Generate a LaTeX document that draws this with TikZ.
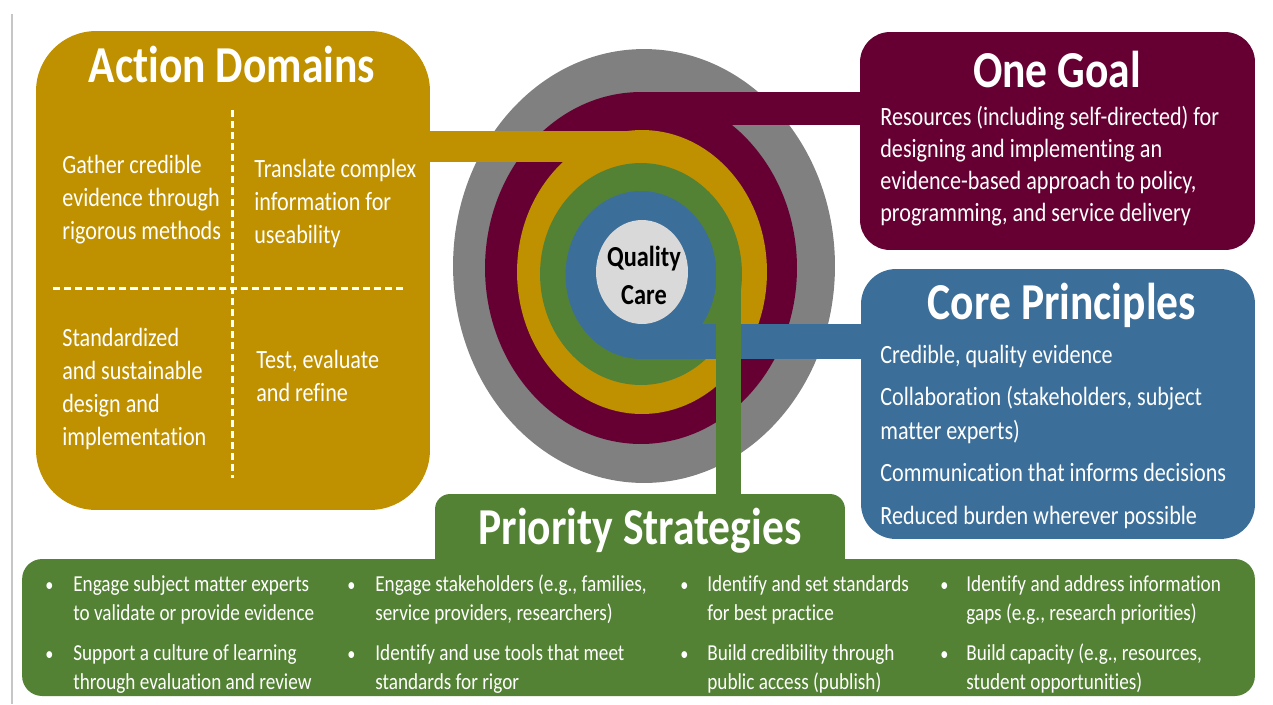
\documentclass[tikz,border=0pt]{standalone}
\usepackage{fontspec}
\setmainfont{Carlito}[FakeStretch=0.84, Ligatures=CommonOff]
\usepackage{tikz}
\usetikzlibrary{shapes.geometric}

\definecolor{adgold}{HTML}{BF9000}
\definecolor{goalred}{HTML}{660033}
\definecolor{coreblue}{HTML}{3B6E98}
\definecolor{stratgreen}{HTML}{548235}
\definecolor{ringgray}{HTML}{808080}
\definecolor{hubgray}{HTML}{D9D9D9}

\tikzset{
  panel/.style={inner sep=0pt, rounded corners=#1},
  ring/.style={ellipse, inner sep=0pt},
  band/.style={line width=#1},
  title/.style={text=white, inner sep=0pt, anchor=base, font=\fontsize{29.5}{34}\selectfont\bfseries},
  body/.style={text=white, inner sep=0pt, anchor=base west, align=left, font=\fontsize{15}{18.7}\selectfont},
  item/.style={text=white, inner sep=0pt, anchor=base west, align=left, font=\fontsize{13}{16.4}\selectfont},
  divider/.style={white, line width=0.06cm, dash pattern=on 4pt off 2.3pt}
}

\begin{document}
\begin{tikzpicture}[x=0.02cm, y=-0.02cm]
      \useasboundingbox (0,0) rectangle (1273,704);
      \draw[gray!45, line width=0.06cm] (12,14) -- (12,704);

      % panels
      \node[panel=1.2cm, fill=adgold, minimum width=7.88cm, minimum height=9.58cm] (domains) at (233,270.5) {};
      \node[panel=0.6cm, fill=goalred, minimum width=7.9cm, minimum height=4.36cm] (goal) at (1057.5,141) {};
      \node[panel=0.7cm, fill=coreblue, minimum width=7.88cm, minimum height=5.4cm] (core) at (1058,404) {};
      \node[panel=0.3cm, fill=stratgreen, minimum width=8.2cm, minimum height=1.72cm] (strattab) at (640,537) {};
      \node[panel=0.4cm, fill=stratgreen, minimum width=24.66cm, minimum height=2.74cm] (strategies) at (638.5,627.5) {};

      % spiral
      \node[ring, fill=ringgray, minimum width=7.64cm, minimum height=8.68cm] (outer) at (644,266) {};
      \node[ring, fill=goalred, minimum width=6.24cm, minimum height=7.04cm] (maroonring) at (641,268) {};
      \coordinate (maroontop) at (641,108.5);
      \draw[band=0.66cm, goalred] (maroontop) -- (maroontop -| goal.west) -- ++(10,0);
      \node[ring, fill=adgold, minimum width=5cm, minimum height=5.68cm] (goldring) at (642,272) {};
      \coordinate (goldtop) at (642,146.5);
      \draw[band=0.62cm, adgold] (goldtop) -- (goldtop -| domains.east) -- ++(-10,0);
      \node[ring, fill=stratgreen, minimum width=4.04cm, minimum height=4.44cm] (greenring) at (641,274) {};
      \node[ring, fill=coreblue, minimum width=3.02cm, minimum height=3.36cm] (bluering) at (641,275) {};
      \coordinate (bluebottom) at (641,341.5);
      \draw[band=0.7cm, coreblue] (bluebottom) -- (bluebottom -| core.west) -- ++(10,0);
      \coordinate (greenside) at (728.5,257);
      \draw[band=0.5cm, stratgreen] (greenside) -- (greenside |- strattab.north) -- ++(0,10);
      \node[ring, fill=hubgray, minimum width=1.84cm, minimum height=2.08cm] (hub) at (642,272) {};
      \node[inner sep=0pt, anchor=base, align=center, font=\fontsize{16.5}{21.5}\selectfont\bfseries] (hubtext) at (644,304) {Quality\\Care};

      % action domains
      \node[title] (domainstitle) at (232,82) {Action Domains};
      \draw[divider] (232,110) -- (232,478);
      \draw[divider] (53,288) -- (405,288);
      \node[body] (gather) at (62,239) {Gather credible\\evidence through\\rigorous methods};
      \node[body] (translate) at (254,243) {Translate complex\\information for\\useability};
      \node[body] (standard) at (62,445) {Standardized\\and sustainable\\design and\\implementation};
      \node[body] (test) at (256,401) {Test, evaluate\\and refine};

      % one goal
      \node[title] (goaltitle) at (1057,87) {One Goal};
      \node[body, font=\fontsize{15}{18.1}\selectfont] (resources) at (880,221) {Resources (including self-directed) for\\designing and implementing an\\evidence-based approach to policy,\\programming, and service delivery};

      % core principles
      \node[title] (coretitle) at (1062,319) {Core Principles};
      \node[body, font=\fontsize{15}{19.4}\selectfont] (principles) at (880,524) {Credible, quality evidence\\[4.5pt]Collaboration (stakeholders, subject\\matter experts)\\[4.5pt]Communication that informs decisions\\[5pt]Reduced burden wherever possible};

      % priority strategies
      \node[title] (strattitle) at (640,544) {Priority Strategies};
      \node[item, font=\fontsize{11}{16.4}\selectfont] (dot1) at (45,591) {\textbullet};
      \node[item] (experts) at (73,620) {Engage subject matter experts\\to validate or provide evidence};
      \node[item, font=\fontsize{11}{16.4}\selectfont] (dot2) at (45,660) {\textbullet};
      \node[item] (culture) at (73,689) {Support a culture of learning\\through evaluation and review};
      \node[item, font=\fontsize{11}{16.4}\selectfont] (dot3) at (347,591) {\textbullet};
      \node[item] (stakeholders) at (375,620) {Engage stakeholders (e.g., families,\\service providers, researchers)};
      \node[item, font=\fontsize{11}{16.4}\selectfont] (dot4) at (347,660) {\textbullet};
      \node[item] (tools) at (375,689) {Identify and use tools that meet\\standards for rigor};
      \node[item, font=\fontsize{11}{16.4}\selectfont] (dot5) at (680,591) {\textbullet};
      \node[item] (standards) at (707,620) {Identify and set standards\\for best practice};
      \node[item, font=\fontsize{11}{16.4}\selectfont] (dot6) at (680,660) {\textbullet};
      \node[item] (credibility) at (707,689) {Build credibility through\\public access (publish)};
      \node[item, font=\fontsize{11}{16.4}\selectfont] (dot7) at (940,591) {\textbullet};
      \node[item] (gaps) at (966,620) {Identify and address information\\gaps (e.g., research priorities)};
      \node[item, font=\fontsize{11}{16.4}\selectfont] (dot8) at (940,660) {\textbullet};
      \node[item] (capacity) at (966,689) {Build capacity (e.g., resources,\\student opportunities)};
    \end{tikzpicture}
\end{document}
